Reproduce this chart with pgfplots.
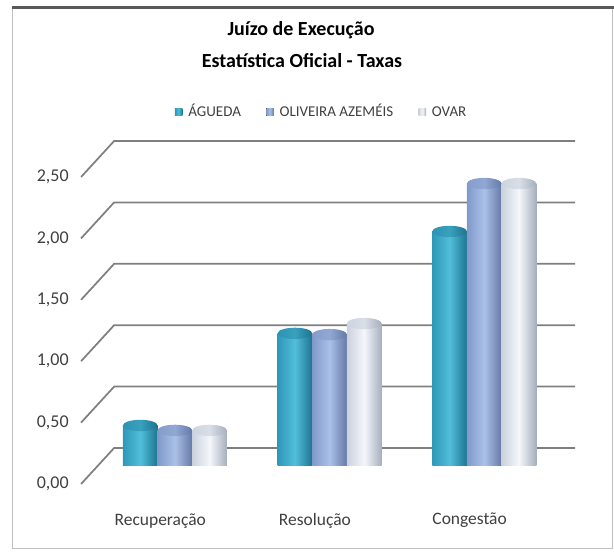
\documentclass[border=0pt]{standalone}
\usepackage{fontspec}
\setmainfont{Carlito}
\usepackage{pgfplots}
\usepackage{pgfplotstable}
\pgfplotsset{compat=1.18}
\usetikzlibrary{shapes.geometric}

% bar colours: left / middle / right of each cylinder, and its cap
\definecolor{aL}{HTML}{2E98B8}\definecolor{aM}{HTML}{52BEDA}\definecolor{aR}{HTML}{1D7490}\definecolor{aC}{HTML}{2E93B2}
\definecolor{oL}{HTML}{8099C9}\definecolor{oM}{HTML}{AAC1E8}\definecolor{oR}{HTML}{6479A6}\definecolor{oC}{HTML}{859DCB}
\definecolor{vL}{HTML}{CBD2DD}\definecolor{vM}{HTML}{F4F7FB}\definecolor{vR}{HTML}{A6AFBE}\definecolor{vC}{HTML}{CDD4DF}
\definecolor{gridc}{HTML}{7F7F7F}
\definecolor{txt}{HTML}{404040}

\pgfplotstableread{
x a o v
0 0.33 0.29 0.29
1 1.08 1.07 1.16
2 1.91 2.30 2.30
}\taxas

% one cylinder per plot, so that each bar gets its own shading
% #1 column, #2 x domain, #3 bar shift, #4 colour prefix, #5 extra options
\newcommand\cyl[5]{%
  \addplot[ybar, bar shift=#3, draw=none, left color=#4L, right color=#4R, middle color=#4M,
    restrict x to domain=#2, nodes near coords={}, nodes near coords align=center,
    every node near coord/.append style={xshift=#3, left color=#4C, right color=#4R, middle color=#4C!70!#4M}, #5]
    table[x=x, y=#1] {\taxas};}

\begin{document}
\begin{tikzpicture}
% frame
\draw[color=black!25, line width=0.75pt] (9pt,3pt) rectangle (459pt,408.75pt);
\draw[color=black!65, line width=2pt] (9pt,409.1pt) -- (460.5pt,409.1pt);
% title
\node[font=\fontsize{15}{18}\selectfont\bfseries] at (225.75pt,392.25pt) {Juízo de Execução};
\node[font=\fontsize{15}{18}\selectfont\bfseries] at (226.5pt,369pt) {Estatística Oficial - Taxas};

\begin{axis}[
    at={(73.2pt,65.25pt)}, anchor=south west,
    scale only axis, width=348pt, height=230.25pt,
    bar width=26pt,
    xmin=-0.5, xmax=2.5, ymin=0, ymax=2.5,
    axis line style={draw=none}, tick style={draw=none},
    clip=false,
    xtick={0,1,2}, xticklabels={Recuperação,Resolução,Congestão},
    ytick={0,0.5,1,1.5,2,2.5},
    /pgf/number format/.cd, fixed, fixed zerofill, precision=2, use comma, assume math mode=true,
    /pgfplots/.cd,
    yticklabel style={anchor=east, inner sep=0pt, xshift=-21.5pt, yshift=-13.5pt,
        font=\fontsize{13.5}{16}\selectfont, text=txt},
    xticklabel style={anchor=center, inner sep=0pt, xshift=-11pt, yshift=-41pt,
        font=\fontsize{13.1}{16}\selectfont, text=txt},
    every node near coord/.append style={ellipse, inner sep=0pt, minimum width=26pt, minimum height=8.5pt},
    legend style={at={(axis description cs:0.4836,1.153)}, anchor=center, draw=none, fill=none,
        legend columns=-1, font=\fontsize{11.25}{13}\selectfont, text=txt,
        nodes={text height=8pt, text depth=1pt},
        /tikz/every even column/.append style={column sep=17pt}},
    legend image code/.code={\fill[#1] (0pt,-2.8pt) rectangle (5.6pt,2.8pt); \path (8pt,0pt);},
]
% back wall lines and front diagonals
\pgfplotsinvokeforeach{0,0.5,1,1.5,2,2.5}{
    \draw[gridc, line width=1.3pt]
        ([xshift=-12.4pt,yshift=-13.5pt]axis cs:-0.5,#1) --
        ([xshift=12.4pt,yshift=13.5pt]axis cs:-0.5,#1) --
        ([xshift=12.4pt,yshift=13.5pt]axis cs:2.48,#1);
}
\cyl{a}{-0.2:0.2}{-26pt}{a}{}\addlegendentry{ÁGUEDA}
\cyl{o}{-0.2:0.2}{0pt}{o}{}\addlegendentry{OLIVEIRA AZEMÉIS}
\cyl{v}{-0.2:0.2}{26pt}{v}{}\addlegendentry{OVAR}
\cyl{a}{0.8:1.2}{-26pt}{a}{forget plot}
\cyl{o}{0.8:1.2}{0pt}{o}{forget plot}
\cyl{v}{0.8:1.2}{26pt}{v}{forget plot}
\cyl{a}{1.8:2.2}{-26pt}{a}{forget plot}
\cyl{o}{1.8:2.2}{0pt}{o}{forget plot}
\cyl{v}{1.8:2.2}{26pt}{v}{forget plot}
\end{axis}
\pgfresetboundingbox
\useasboundingbox (0pt,0pt) rectangle (460.5pt,414.75pt);
\end{tikzpicture}
\end{document}
